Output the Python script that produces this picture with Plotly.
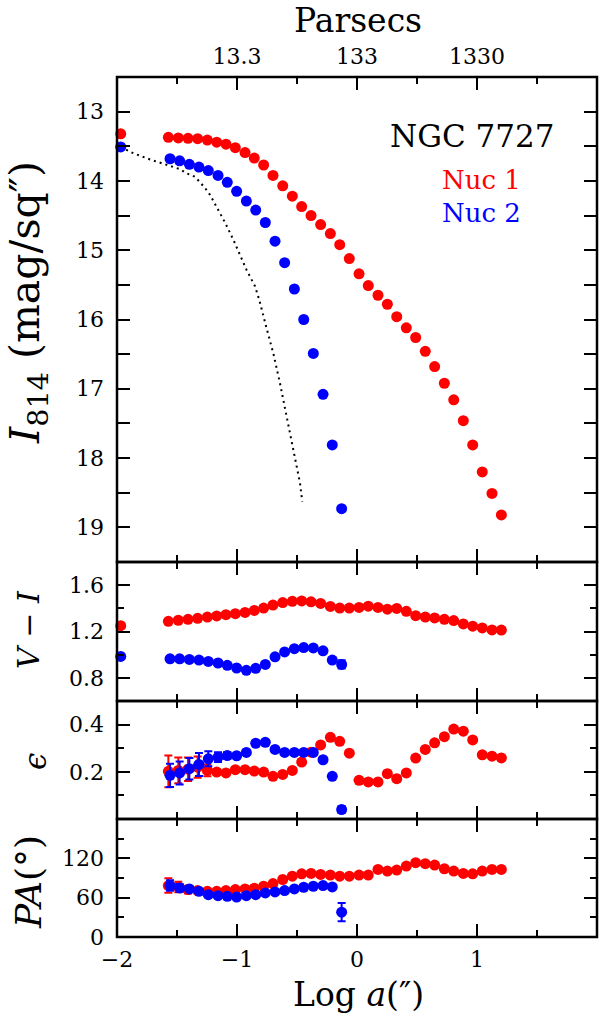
import plotly.graph_objects as go

FONT = "DejaVu Serif"
RED = "#ff0000"
BLUE = "#0000ff"

# ---------------- data (log a in arcsec) ----------------
# Nuc 1 (red)
x_nuc1_sb = [-1.969, -1.572, -1.489, -1.408, -1.328, -1.247, -1.169, -1.092, -1.014, -0.933,
             -0.856, -0.778, -0.700, -0.619, -0.539, -0.461, -0.383, -0.303, -0.222, -0.144,
             -0.064, 0.017, 0.094, 0.175, 0.253, 0.331, 0.411, 0.489, 0.569, 0.647,
             0.728, 0.806, 0.886, 0.964, 1.044, 1.125, 1.203]
mu_nuc1 = [13.32, 13.37, 13.38, 13.385, 13.39, 13.41, 13.44, 13.47, 13.52, 13.59,
           13.67, 13.77, 13.92, 14.07, 14.22, 14.37, 14.50, 14.63, 14.76, 14.92,
           15.12, 15.34, 15.51, 15.65, 15.78, 15.96, 16.12, 16.26, 16.46, 16.68,
           16.92, 17.16, 17.46, 17.81, 18.20, 18.51, 18.82]
vi_nuc1 = [1.25, 1.288, 1.297, 1.305, 1.314, 1.325, 1.334, 1.345, 1.354, 1.365,
           1.382, 1.402, 1.428, 1.450, 1.461, 1.464, 1.456, 1.442, 1.416, 1.402,
           1.402, 1.408, 1.419, 1.408, 1.393, 1.399, 1.374, 1.337, 1.325, 1.317,
           1.305, 1.294, 1.265, 1.246, 1.231, 1.214, 1.212]
x_nuc1 = x_nuc1_sb[1:]
eps_nuc1 = [0.202, 0.206, 0.211, 0.220, 0.206, 0.199, 0.195, 0.209, 0.209, 0.203,
            0.199, 0.181, 0.189, 0.206, 0.241, 0.283, 0.314, 0.346, 0.329, 0.279,
            0.164, 0.157, 0.157, 0.192, 0.171, 0.195, 0.258, 0.295, 0.323, 0.349,
            0.381, 0.372, 0.335, 0.272, 0.266, 0.259]
eps_nuc1_err = [0.067, 0.055, 0.05, 0.045, 0.025, 0.012, 0.01, 0.01, 0.01, 0.01,
                0.01, 0.01, 0.01, 0.01, 0.01, 0.01, 0.01, 0.01, 0.01, 0.01,
                0.012, 0.012, 0.012, 0.012, 0.012, 0.01, 0.01, 0.01, 0.01, 0.01,
                0.01, 0.01, 0.01, 0.01, 0.01, 0.01]
pa_nuc1 = [78.5, 76.4, 72.3, 70.8, 69.7, 69.7, 70.8, 72.3, 73.3, 74.4,
           77.4, 81.5, 87.7, 92.8, 96.4, 96.9, 95.4, 94.4, 92.8, 92.8,
           94.4, 94.4, 103.1, 100.5, 102.1, 108.2, 113.3, 111.8, 109.7, 104.1,
           100.5, 96.9, 96.4, 100.5, 103.1, 103.1]
pa_nuc1_err = [11, 8, 6, 4, 3, 2, 2, 2, 2, 2, 2, 2, 2, 2, 2, 2, 2, 2, 2, 2,
               2, 2, 2, 2, 2, 2, 2, 2, 2, 2, 2, 2, 2, 2, 2, 2]

# Nuc 2 (blue)
x_nuc2_sb = [-1.969, -1.558, -1.478, -1.397, -1.317, -1.239, -1.158, -1.081, -1.003, -0.922,
             -0.844, -0.764, -0.683, -0.603, -0.522, -0.444, -0.364, -0.283, -0.206, -0.128]
mu_nuc2 = [13.51, 13.68, 13.71, 13.76, 13.80, 13.85, 13.92, 14.02, 14.15, 14.29,
           14.42, 14.60, 14.87, 15.18, 15.56, 16.00, 16.49, 17.08, 17.81, 18.73]
vi_nuc2 = [0.985, 0.964, 0.964, 0.959, 0.953, 0.942, 0.928, 0.908, 0.885, 0.865,
           0.882, 0.916, 0.981, 1.024, 1.052, 1.061, 1.058, 1.033, 0.953, 0.916]
vi_nuc2_err = [0.005] * 19 + [0.035]
x_nuc2 = x_nuc2_sb[1:]
eps_nuc2 = [0.185, 0.195, 0.213, 0.231, 0.255, 0.262, 0.269, 0.268, 0.282, 0.321,
            0.325, 0.295, 0.282, 0.282, 0.282, 0.282, 0.251, 0.181, 0.04]
eps_nuc2_err = [0.049, 0.049, 0.046, 0.049, 0.032, 0.021, 0.015, 0.01, 0.01, 0.01,
                0.01, 0.01, 0.01, 0.01, 0.01, 0.01, 0.01, 0.01, 0.015]
pa_nuc2 = [78.5, 74.9, 73.3, 69.7, 64.6, 63.1, 62.1, 61.0, 63.1, 64.6,
           67.2, 68.7, 70.8, 73.3, 75.9, 77.4, 78.5, 76.4, 37.9]
pa_nuc2_err = [8, 6, 4, 3, 2, 2, 2, 2, 2, 2, 2, 2, 2, 2, 2, 2, 2, 2, 14]

# PSF profile (dotted)
psf_x = [-1.969, -1.864, -1.725, -1.586, -1.475, -1.42, -1.35, -1.308, -1.267, -1.225,
         -1.169, -1.10, -1.03, -0.975, -0.919, -0.85, -0.814, -0.753, -0.697, -0.642,
         -0.586, -0.531, -0.475, -0.456]
psf_mu = [13.51, 13.60, 13.69, 13.77, 13.83, 13.89, 13.94, 14.02, 14.10, 14.20,
          14.37, 14.60, 14.85, 15.06, 15.29, 15.52, 15.72, 16.13, 16.49, 16.92,
          17.40, 17.88, 18.36, 18.63]

# top axis (parsecs)
pc_tickvals = [-1, 0, 1]
pc_ticktext = ["13.3", "133", "1330"]

# ---------------- figure ----------------
fig = go.Figure()
MS = 11


def pts(x, y, color, xa, ya, err=None):
    tr = go.Scatter(x=x, y=y, mode="markers", xaxis=xa, yaxis=ya,
                    marker=dict(color=color, size=MS, line=dict(width=0)),
                    cliponaxis=False, showlegend=False, hoverinfo="skip")
    if err is not None:
        tr.error_y = dict(type="data", array=err, visible=True, color=color,
                          thickness=2, width=4)
    fig.add_trace(tr)


fig.add_trace(go.Scatter(x=psf_x, y=psf_mu, mode="lines", xaxis="x", yaxis="y",
                         line=dict(color="black", width=2, dash="2px,4px"),
                         showlegend=False, hoverinfo="skip"))
pts(x_nuc1_sb, mu_nuc1, RED, "x", "y")
pts(x_nuc2_sb, mu_nuc2, BLUE, "x", "y")
pts(x_nuc1_sb, vi_nuc1, RED, "x2", "y2")
pts(x_nuc2_sb, vi_nuc2, BLUE, "x2", "y2", vi_nuc2_err)
pts(x_nuc1, eps_nuc1, RED, "x3", "y3", eps_nuc1_err)
pts(x_nuc2, eps_nuc2, BLUE, "x3", "y3", eps_nuc2_err)
pts(x_nuc1, pa_nuc1, RED, "x4", "y4", pa_nuc1_err)
pts(x_nuc2, pa_nuc2, BLUE, "x4", "y4", pa_nuc2_err)
# invisible trace to carry the parsec axis
fig.add_trace(go.Scatter(x=[0], y=[13], xaxis="x5", yaxis="y", mode="markers",
                         marker=dict(opacity=0), showlegend=False, hoverinfo="skip"))

TF = dict(family=FONT, size=22, color="black")
LW = 2.5
AX = dict(showline=False, mirror="allticks", automargin=False,
          ticks="inside", tickcolor="black", tickwidth=2, ticklen=13,
          showgrid=False, zeroline=False, tickfont=TF)


def minor(vals):
    return dict(tickvals=vals, ticks="inside", ticklen=7, tickwidth=2, tickcolor="black")


PLOT_TOP, PLOT_BOT = 77, 937
H = PLOT_BOT - PLOT_TOP
BOUNDS = [77, 562, 701, 819, 937]


def dom(ytop, ybot):
    return [(PLOT_BOT - ybot) / H, (PLOT_BOT - ytop) / H]


xcommon = dict(AX, range=[-2, 2], tickvals=[-2, -1, 0, 1, 2],
               minor=minor([-1.5, -0.5, 0.5, 1.5]))
YSO = 12

fig.update_layout(
    width=603, height=1025,
    margin=dict(l=117, r=6, t=PLOT_TOP, b=1025 - PLOT_BOT),
    paper_bgcolor="white", plot_bgcolor="white",
    showlegend=False,
    font=dict(family=FONT, color="black"),
    xaxis=dict(xcommon, anchor="y", showticklabels=False),
    xaxis2=dict(xcommon, anchor="y2", showticklabels=False, matches="x"),
    xaxis3=dict(xcommon, anchor="y3", showticklabels=False, matches="x"),
    xaxis4=dict(xcommon, anchor="y4", showticklabels=True, ticklabelstandoff=7),
    xaxis5=dict(range=[-2, 2], overlaying="x", anchor="y", side="top",
                tickvals=pc_tickvals, ticktext=pc_ticktext, ticks="", automargin=False,
                showline=False, showgrid=False, zeroline=False, tickfont=TF,
                ticklabelstandoff=8),
    yaxis=dict(AX, domain=dom(BOUNDS[0], BOUNDS[1]), anchor="x", range=[19.5, 12.5],
               tickvals=[13, 14, 15, 16, 17, 18, 19],
               minor=minor([12.5, 13.5, 14.5, 15.5, 16.5, 17.5, 18.5]),
               ticklabelstandoff=YSO),
    yaxis2=dict(AX, domain=dom(BOUNDS[1], BOUNDS[2]), anchor="x2", range=[0.6, 1.8],
                tickvals=[0.8, 1.2, 1.6], ticktext=["0.8", "1.2", "1.6"],
                minor=minor([1.0, 1.4]), ticklabelstandoff=YSO),
    yaxis3=dict(AX, domain=dom(BOUNDS[2], BOUNDS[3]), anchor="x3", range=[0, 0.5],
                tickvals=[0.2, 0.4], ticktext=["0.2", "0.4"],
                minor=minor([0.1, 0.3]), ticklabelstandoff=YSO),
    yaxis4=dict(AX, domain=dom(BOUNDS[3], BOUNDS[4]), anchor="x4", range=[0, 180],
                tickvals=[0, 60, 120], minor=minor([30, 90, 150]),
                ticklabelstandoff=YSO),
)

# panel frames
for i in range(4):
    fig.add_shape(type="rect", xref="paper", yref="paper", x0=0, x1=1,
                  y0=(PLOT_BOT - BOUNDS[i + 1]) / H, y1=(PLOT_BOT - BOUNDS[i]) / H,
                  line=dict(color="black", width=LW), fillcolor="rgba(0,0,0,0)",
                  layer="above")


def px_x(p):
    return (p - 117) / 480


def px_y(p):
    return (PLOT_BOT - p) / H


ann = [
    dict(text="NGC 7727", x=px_x(472), y=px_y(136), size=31, angle=0),
    dict(text="<i>I</i><sub>814</sub> (mag/sq″)", x=px_x(28), y=px_y(303), size=41,
         angle=-90),
    dict(text="<i>V</i> − <i>I</i>", x=px_x(28), y=px_y(630), size=30, angle=-90),
    dict(text="<i>ϵ</i>", x=px_x(35), y=px_y(762), size=31, angle=-90),
    dict(text="<i>PA</i>(°)", x=px_x(28), y=px_y(882), size=36, angle=-90),
    dict(text="Log <i>a</i>(″)", x=px_x(358), y=px_y(994), size=33, angle=0),
]
for a in ann:
    fig.add_annotation(text=a["text"], x=a["x"], y=a["y"], xref="paper", yref="paper",
                       showarrow=False, textangle=a["angle"], xanchor="center",
                       yanchor="middle",
                       font=dict(family=FONT, size=a["size"], color="black"))

fig.add_annotation(text="Parsecs", x=px_x(358), y=px_y(0), xref="paper", yref="paper",
                   showarrow=False, xanchor="center", yanchor="top", borderpad=0,
                   font=dict(family=FONT, size=33, color="black"))

for txt, col, yy in [("Nuc 1", RED, 180), ("Nuc 2", BLUE, 213)]:
    fig.add_annotation(text=txt, x=px_x(440), y=px_y(yy), xref="paper", yref="paper",
                       showarrow=False, xanchor="left", yanchor="middle",
                       font=dict(family=FONT, size=26, color=col))

fig.write_html("out.html", config={"displayModeBar": False},
               post_script="document.body.style.margin='0';document.body.style.overflow='hidden';")
